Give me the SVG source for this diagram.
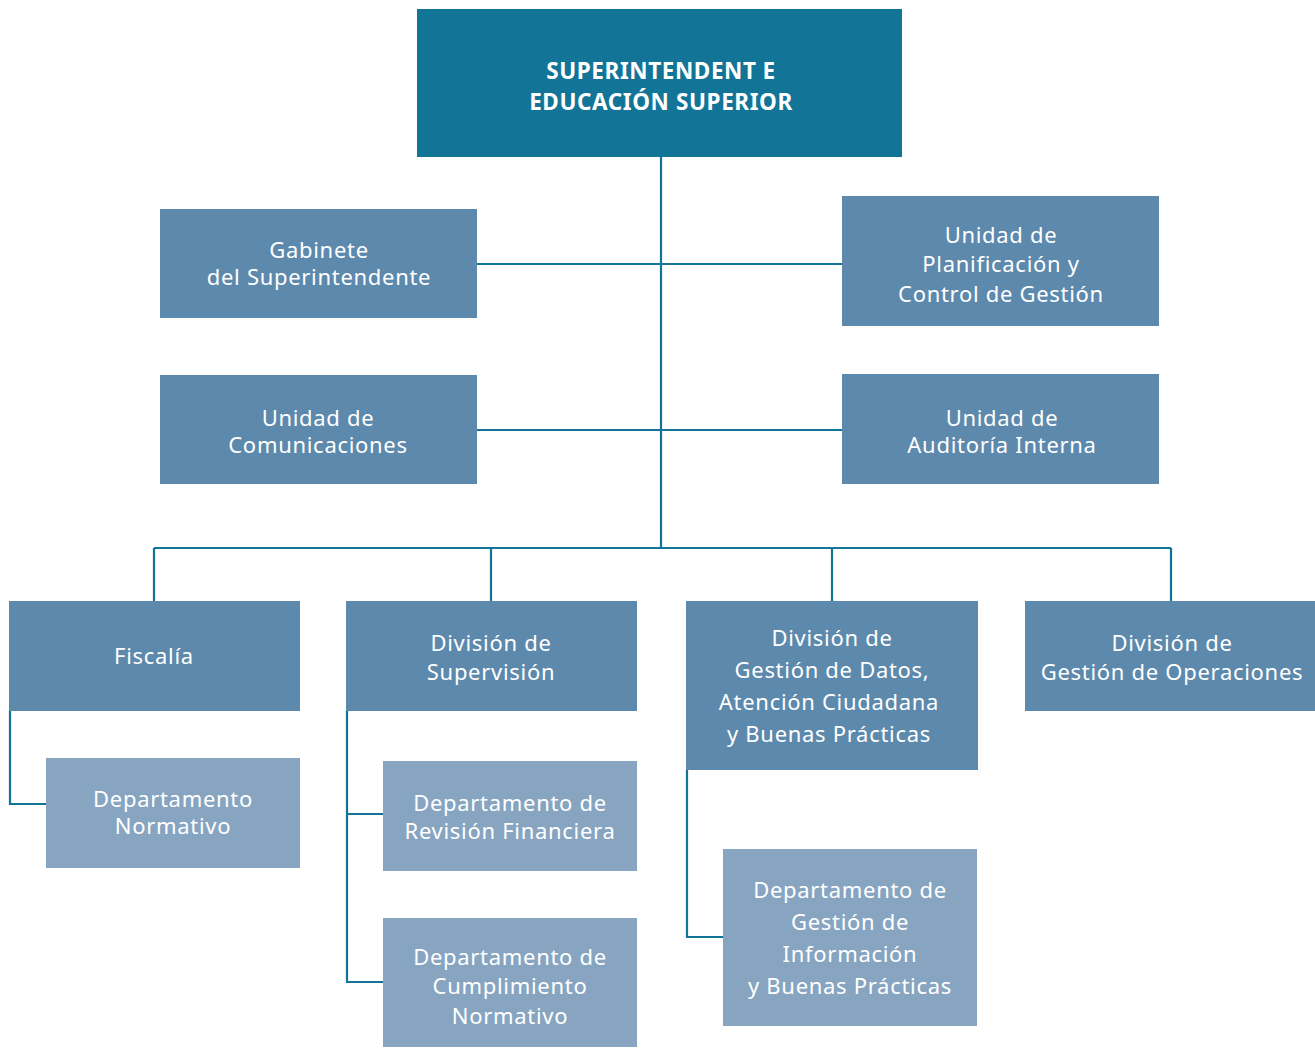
<svg xmlns="http://www.w3.org/2000/svg" width="1315" height="1048" viewBox="0 0 1315 1048">
<style>
.top{fill:#127597}
.mid{fill:#5d89ad}
.lt{fill:#87a5c1}
text{font-family:"Noto Sans","Open Sans","DejaVu Sans",sans-serif;font-size:22px;fill:#ffffff;text-anchor:middle;letter-spacing:0.7px}
.b{font-weight:bold;font-size:22.5px;letter-spacing:0.6px}
.c{fill:none;stroke:#137499;stroke-width:2.2}
</style>
<rect width="1315" height="1048" fill="#ffffff"/>
<g id="connectors">
<path class="c" d="M661 157V548M477 264H842M477 430H842M154 548H1171M154 548V601M491 548V601M832 548V601M1171 548V601"/>
<path class="c" d="M10 711V804H46"/>
<path class="c" d="M347 711V982H383M347 814H383"/>
<path class="c" d="M687 770V937H723"/>
</g>
<g id="n-superintendente"><rect class="top" x="417" y="9" width="485" height="148"/>
<text class="b" x="661" y="79">SUPERINTENDENT<tspan dx="6">E</tspan></text><text class="b" x="661" y="110">EDUCACIÓN SUPERIOR</text></g>
<g id="n-gabinete"><rect class="mid" x="160" y="209" width="317" height="109"/>
<text x="319" y="258">Gabinete</text><text x="319" y="285">del Superintendente</text></g>
<g id="n-planificacion"><rect class="mid" x="842" y="196" width="317" height="130"/>
<text x="1001" y="243">Unidad de</text><text x="1001" y="272">Planificación y</text><text x="1001" y="302">Control de Gestión</text></g>
<g id="n-comunicaciones"><rect class="mid" x="160" y="375" width="317" height="109"/>
<text x="318" y="426">Unidad de</text><text x="318" y="453">Comunicaciones</text></g>
<g id="n-auditoria"><rect class="mid" x="842" y="374" width="317" height="110"/>
<text x="1002" y="426">Unidad de</text><text x="1002" y="453">Auditoría Interna</text></g>
<g id="n-fiscalia"><rect class="mid" x="9" y="601" width="291" height="110"/>
<text x="154" y="664">Fiscalía</text></g>
<g id="n-supervision"><rect class="mid" x="346" y="601" width="291" height="110"/>
<text x="491" y="651">División de</text><text x="491" y="680">Supervisión</text></g>
<g id="n-datos"><rect class="mid" x="686" y="601" width="292" height="169"/>
<text x="832" y="646">División de</text><text x="832" y="678">Gestión de Datos,</text><text x="829" y="710">Atención Ciudadana</text><text x="829" y="742">y Buenas Prácticas</text></g>
<g id="n-operaciones"><rect class="mid" x="1025" y="601" width="290" height="110"/>
<text x="1172" y="651">División de</text><text x="1172" y="680">Gestión de Operaciones</text></g>
<g id="n-normativo"><rect class="lt" x="46" y="758" width="254" height="110"/>
<text x="173" y="807">Departamento</text><text x="173" y="834">Normativo</text></g>
<g id="n-revision"><rect class="lt" x="383" y="761" width="254" height="110"/>
<text x="510" y="811">Departamento de</text><text x="510" y="839">Revisión Financiera</text></g>
<g id="n-cumplimiento"><rect class="lt" x="383" y="918" width="254" height="129"/>
<text x="510" y="965">Departamento de</text><text x="510" y="994">Cumplimiento</text><text x="510" y="1024">Normativo</text></g>
<g id="n-informacion"><rect class="lt" x="723" y="849" width="254" height="177"/>
<text x="850" y="898">Departamento de</text><text x="850" y="930">Gestión de</text><text x="850" y="962">Información</text><text x="850" y="994">y Buenas Prácticas</text></g>
</svg>
